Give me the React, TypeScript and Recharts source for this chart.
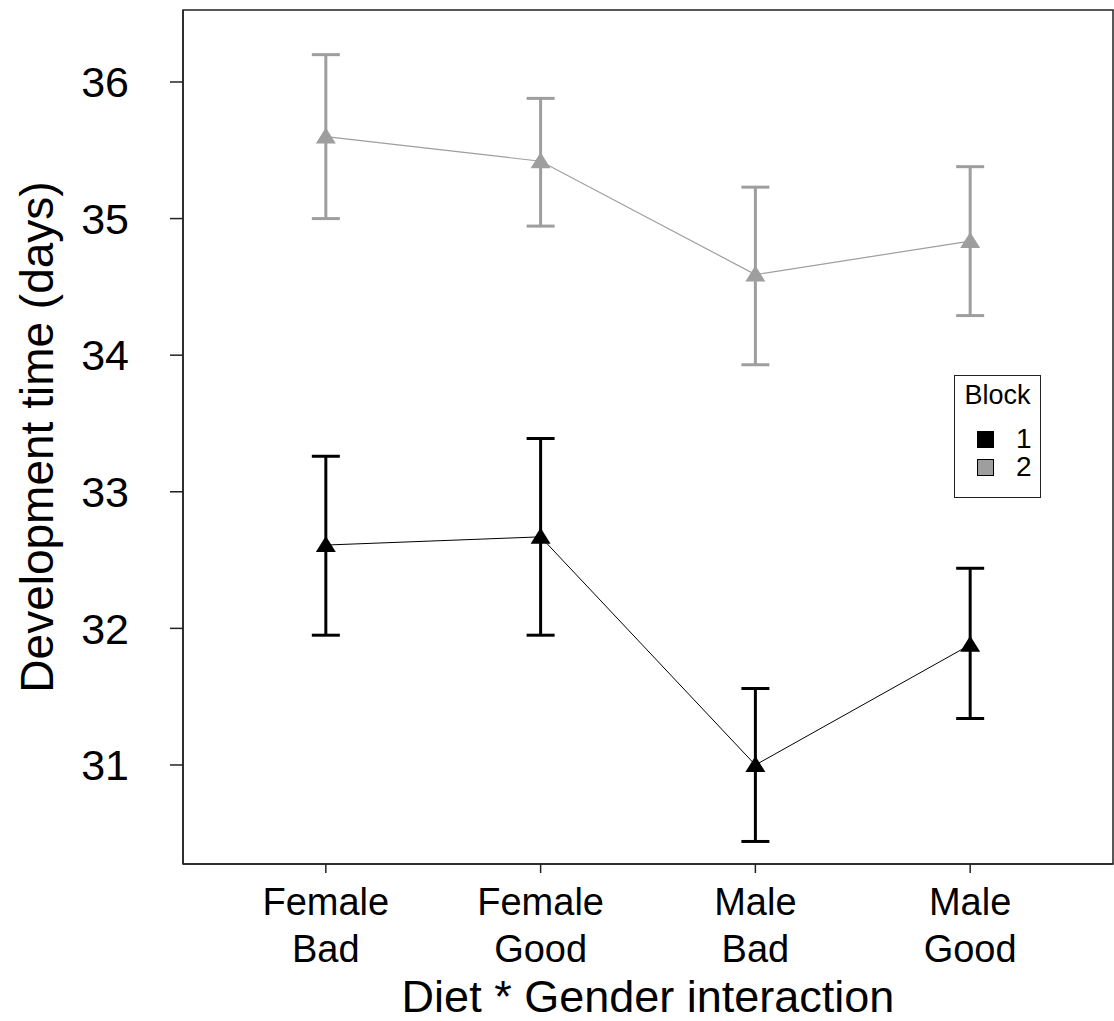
import {
  ErrorBar,
  Label,
  Line,
  LineChart,
  ReferenceArea,
  XAxis,
  YAxis,
} from "recharts";

const FONT = "'Liberation Sans', Arial, sans-serif";
const BLOCK1_COLOR = "#000000";
const BLOCK2_COLOR = "#9e9e9e";

// Diet * Gender groups, first and second line of each tick label
const genderLabels = ["Female", "Female", "Male", "Male"];
const dietLabels = ["Bad", "Good", "Bad", "Good"];
const positions = [1, 2, 3, 4];
const yTicks = [31, 32, 33, 34, 35, 36];

const X_DOMAIN: [number, number] = [0.335, 4.665];
const Y_DOMAIN: [number, number] = [30.275, 36.527];

// Block 1: means with lower / upper interval ends
const block1Mean = [32.61, 32.67, 31.0, 31.88];
const block1Low = [31.95, 31.95, 30.44, 31.34];
const block1High = [33.26, 33.39, 31.56, 32.44];

// Block 2
const block2Mean = [35.6, 35.42, 34.59, 34.835];
const block2Low = [35.0, 34.945, 33.93, 34.29];
const block2High = [36.2, 35.88, 35.23, 35.38];

const data = positions.map((pos, i) => ({
  pos,
  block1: block1Mean[i],
  err1: [block1Mean[i] - block1Low[i], block1High[i] - block1Mean[i]],
  block2: block2Mean[i],
  err2: [block2Mean[i] - block2Low[i], block2High[i] - block2Mean[i]],
}));

function Triangle(props: any) {
  const { cx, cy, fill } = props;
  if (cx == null || cy == null) return null;
  return (
    <path
      d={`M${cx},${cy - 9} L${cx + 10},${cy + 7} L${cx - 10},${cy + 7} Z`}
      fill={fill}
      stroke="none"
    />
  );
}

function GroupTick(props: any) {
  const { x, y, payload } = props;
  const i = positions.indexOf(payload.value);
  return (
    <g>
      <text x={x} y={y + 40} textAnchor="middle" fontSize={38} fontFamily={FONT} fill="#000">
        {genderLabels[i]}
      </text>
      <text x={x} y={y + 87} textAnchor="middle" fontSize={38} fontFamily={FONT} fill="#000">
        {dietLabels[i]}
      </text>
    </g>
  );
}

function YTitle(props: any) {
  const { viewBox } = props;
  const cy = viewBox.y + viewBox.height / 2;
  const x = 53;
  return (
    <text
      x={x}
      y={cy}
      transform={`rotate(-90 ${x} ${cy})`}
      textAnchor="middle"
      fontSize={46}
      fontFamily={FONT}
      fill="#000"
    >
      Development time (days)
    </text>
  );
}

function BlockLegend() {
  const row = { display: "flex", alignItems: "center", height: 28 } as const;
  const box = (bg: string) => ({
    width: 15,
    height: 15,
    background: bg,
    border: "1px solid #000",
    marginLeft: 22,
    marginRight: 22,
  });
  return (
    <div
      style={{
        position: "absolute",
        left: 954,
        top: 375,
        width: 87,
        height: 123,
        border: "1.5px solid #222",
        background: "#fff",
        fontFamily: FONT,
        boxSizing: "border-box",
      }}
    >
      <div style={{ fontSize: 27, textAlign: "center", marginTop: 4, marginBottom: 14 }}>Block</div>
      <div style={{ ...row, fontSize: 28 }}>
        <div style={box(BLOCK1_COLOR)} />
        <span>1</span>
      </div>
      <div style={{ ...row, fontSize: 28 }}>
        <div style={box(BLOCK2_COLOR)} />
        <span>2</span>
      </div>
    </div>
  );
}

export default function App() {
  return (
    <div style={{ position: "absolute", left: 0, top: 0, width: 1114, height: 1021, background: "#fff" }}>
      <LineChart width={1114} height={1021} data={data} margin={{ top: 10, right: 1, bottom: 0, left: 0 }}>
        <XAxis
          xAxisId="bottom"
          dataKey="pos"
          type="number"
          domain={X_DOMAIN}
          ticks={positions}
          allowDataOverflow
          height={157}
          tickSize={9}
          tick={<GroupTick />}
          axisLine={{ stroke: "#222", strokeWidth: 1.5 }}
          tickLine={{ stroke: "#222", strokeWidth: 1.5 }}
        >
          <Label
            value="Diet * Gender interaction"
            position="insideBottom"
            offset={9}
            fontSize={45}
            fontFamily={FONT}
            fill="#000"
          />
        </XAxis>
        <YAxis
          yAxisId="left"
          type="number"
          domain={Y_DOMAIN}
          ticks={yTicks}
          allowDataOverflow
          width={183}
          tickSize={13}
          tickMargin={41}
          tick={{ fontSize: 43, fontFamily: FONT, fill: "#000" }}
          axisLine={{ stroke: "#222", strokeWidth: 1.5 }}
          tickLine={{ stroke: "#222", strokeWidth: 1.5 }}
        >
          <Label content={<YTitle />} />
        </YAxis>
        {/* box around the whole plotting region */}
        <ReferenceArea
          xAxisId="bottom"
          yAxisId="left"
          x1={X_DOMAIN[0]}
          x2={X_DOMAIN[1]}
          y1={Y_DOMAIN[0]}
          y2={Y_DOMAIN[1]}
          ifOverflow="visible"
          fill="none"
          fillOpacity={0}
          stroke="#222"
          strokeWidth={1.5}
        />
        <Line
          xAxisId="bottom"
          yAxisId="left"
          dataKey="block2"
          stroke={BLOCK2_COLOR}
          strokeWidth={1.2}
          dot={<Triangle fill={BLOCK2_COLOR} />}
          activeDot={false}
          isAnimationActive={false}
        >
          <ErrorBar dataKey="err2" direction="y" width={14} strokeWidth={3} stroke={BLOCK2_COLOR} isAnimationActive={false} />
        </Line>
        <Line
          xAxisId="bottom"
          yAxisId="left"
          dataKey="block1"
          stroke={BLOCK1_COLOR}
          strokeWidth={1}
          dot={<Triangle fill={BLOCK1_COLOR} />}
          activeDot={false}
          isAnimationActive={false}
        >
          <ErrorBar dataKey="err1" direction="y" width={14} strokeWidth={3} stroke={BLOCK1_COLOR} isAnimationActive={false} />
        </Line>
      </LineChart>
      <BlockLegend />
    </div>
  );
}
